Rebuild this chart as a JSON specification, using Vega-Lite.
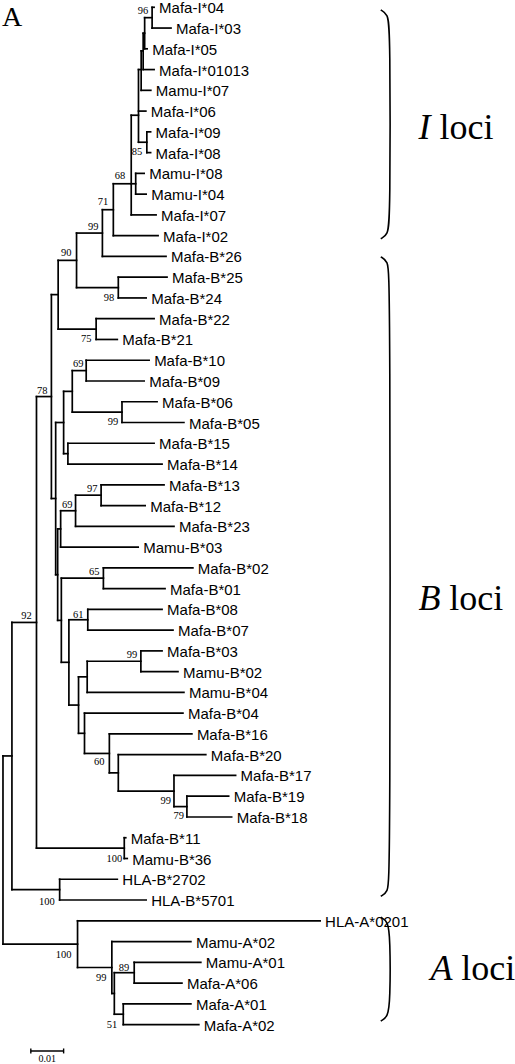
{
"$schema": "https://vega.github.io/schema/vega-lite/v6.json",
"width": 515, "height": 1064, "padding": 0,
"autosize": {"type": "fit", "contains": "padding"},
"background": "white",
"config": {"view": {"stroke": null}},
"datasets": {
"seg": [
{"x":3,"x2":3,"y":36.06,"y2":45.125},{"x":3,"x2":12,"y":36.06,"y2":36.06},{"x":3,"x2":78,"y":45.125,"y2":45.125},
{"x":12,"x2":12,"y":29.63,"y2":42.5},{"x":12,"x2":36.7,"y":29.63,"y2":29.63},{"x":12,"x2":60,"y":42.5,"y2":42.5},
{"x":36.7,"x2":36.7,"y":18.75,"y2":40.5},{"x":36.7,"x2":51.7,"y":18.75,"y2":18.75},{"x":36.7,"x2":125,"y":40.5,"y2":40.5},
{"x":51.7,"x2":51.7,"y":13.84,"y2":23.66},{"x":51.7,"x2":58.5,"y":13.84,"y2":13.84},{"x":51.7,"x2":56,"y":23.66,"y2":23.66},
{"x":58.5,"x2":58.5,"y":12.19,"y2":15.5},{"x":58.5,"x2":77,"y":12.19,"y2":12.19},{"x":58.5,"x2":96.7,"y":15.5,"y2":15.5},
{"x":77,"x2":77,"y":10.875,"y2":13.5},{"x":77,"x2":103,"y":10.875,"y2":10.875},{"x":77,"x2":119,"y":13.5,"y2":13.5},
{"x":103,"x2":103,"y":9.75,"y2":12},{"x":103,"x2":114,"y":9.75,"y2":9.75},{"x":103,"x2":167,"y":12,"y2":12},
{"x":114,"x2":114,"y":8.5,"y2":11},{"x":114,"x2":132,"y":8.5,"y2":8.5},{"x":114,"x2":159,"y":11,"y2":11},
{"x":132,"x2":132,"y":5.2,"y2":10},{"x":132,"x2":139.3,"y":5.2,"y2":5.2},{"x":132,"x2":136.5,"y":8.5,"y2":8.5},{"x":132,"x2":157,"y":10,"y2":10},
{"x":139.3,"x2":139.3,"y":3,"y2":6.5},{"x":139.3,"x2":142,"y":3,"y2":3},{"x":139.3,"x2":146.7,"y":5,"y2":5},{"x":139.3,"x2":147.7,"y":6.5,"y2":6.5},
{"x":142,"x2":142,"y":2.1,"y2":4},{"x":142,"x2":144,"y":2.1,"y2":2.1},{"x":142,"x2":151.7,"y":4,"y2":4},
{"x":144,"x2":144,"y":1.25,"y2":3},{"x":144,"x2":145.5,"y":1.25,"y2":1.25},{"x":144,"x2":155,"y":3,"y2":3},
{"x":145.5,"x2":145.5,"y":0.5,"y2":2},{"x":145.5,"x2":153,"y":0.5,"y2":0.5},{"x":145.5,"x2":148,"y":2,"y2":2},
{"x":153,"x2":153,"y":0,"y2":1},{"x":153,"x2":155,"y":0,"y2":0},{"x":153,"x2":172,"y":1,"y2":1},
{"x":147.7,"x2":147.7,"y":6,"y2":7},{"x":147.7,"x2":151.5,"y":6,"y2":6},{"x":147.7,"x2":151.5,"y":7,"y2":7},
{"x":136.5,"x2":136.5,"y":8,"y2":9},{"x":136.5,"x2":145,"y":8,"y2":8},{"x":136.5,"x2":147,"y":9,"y2":9},
{"x":119,"x2":119,"y":13,"y2":14},{"x":119,"x2":168,"y":13,"y2":13},{"x":119,"x2":147,"y":14,"y2":14},
{"x":96.7,"x2":96.7,"y":15,"y2":16},{"x":96.7,"x2":155,"y":15,"y2":15},{"x":96.7,"x2":118,"y":16,"y2":16},
{"x":56,"x2":56,"y":20,"y2":27.33},{"x":56,"x2":64,"y":20,"y2":20},{"x":56,"x2":58,"y":27.33,"y2":27.33},
{"x":64,"x2":64,"y":18.5,"y2":21.5},{"x":64,"x2":72.7,"y":18.5,"y2":18.5},{"x":64,"x2":68.3,"y":21.5,"y2":21.5},
{"x":72.7,"x2":72.7,"y":17.5,"y2":19.5},{"x":72.7,"x2":86.7,"y":17.5,"y2":17.5},{"x":72.7,"x2":122.7,"y":19.5,"y2":19.5},
{"x":86.7,"x2":86.7,"y":17,"y2":18},{"x":86.7,"x2":150,"y":17,"y2":17},{"x":86.7,"x2":145,"y":18,"y2":18},
{"x":122.7,"x2":122.7,"y":19,"y2":20},{"x":122.7,"x2":158,"y":19,"y2":19},{"x":122.7,"x2":185,"y":20,"y2":20},
{"x":68.3,"x2":68.3,"y":21,"y2":22},{"x":68.3,"x2":155,"y":21,"y2":21},{"x":68.3,"x2":163,"y":22,"y2":22},
{"x":58,"x2":58,"y":25.125,"y2":29.53},{"x":58,"x2":61,"y":25.125,"y2":25.125},{"x":58,"x2":61.7,"y":29.53,"y2":29.53},
{"x":61,"x2":61,"y":24.25,"y2":26},{"x":61,"x2":76,"y":24.25,"y2":24.25},{"x":61,"x2":139,"y":26,"y2":26},
{"x":76,"x2":76,"y":23.5,"y2":25},{"x":76,"x2":101.7,"y":23.5,"y2":23.5},{"x":76,"x2":175,"y":25,"y2":25},
{"x":101.7,"x2":101.7,"y":23,"y2":24},{"x":101.7,"x2":165,"y":23,"y2":23},{"x":101.7,"x2":146,"y":24,"y2":24},
{"x":61.7,"x2":61.7,"y":27.5,"y2":31.55},{"x":61.7,"x2":104,"y":27.5,"y2":27.5},{"x":61.7,"x2":69.3,"y":31.55,"y2":31.55},
{"x":104,"x2":104,"y":27,"y2":28},{"x":104,"x2":194,"y":27,"y2":27},{"x":104,"x2":166,"y":28,"y2":28},
{"x":69.3,"x2":69.3,"y":29.5,"y2":33.61},{"x":69.3,"x2":88.3,"y":29.5,"y2":29.5},{"x":69.3,"x2":79,"y":33.61,"y2":33.61},
{"x":88.3,"x2":88.3,"y":29,"y2":30},{"x":88.3,"x2":163,"y":29,"y2":29},{"x":88.3,"x2":174,"y":30,"y2":30},
{"x":79,"x2":79,"y":32.25,"y2":34.97},{"x":79,"x2":87.7,"y":32.25,"y2":32.25},{"x":79,"x2":85,"y":34.97,"y2":34.97},
{"x":87.7,"x2":87.7,"y":31.5,"y2":33},{"x":87.7,"x2":141.7,"y":31.5,"y2":31.5},{"x":87.7,"x2":185,"y":33,"y2":33},
{"x":141.7,"x2":141.7,"y":31,"y2":32},{"x":141.7,"x2":163,"y":31,"y2":31},{"x":141.7,"x2":179,"y":32,"y2":32},
{"x":85,"x2":85,"y":34,"y2":35.94},{"x":85,"x2":184,"y":34,"y2":34},{"x":85,"x2":110,"y":35.94,"y2":35.94},
{"x":110,"x2":110,"y":35,"y2":36.875},{"x":110,"x2":193,"y":35,"y2":35},{"x":110,"x2":119,"y":36.875,"y2":36.875},
{"x":119,"x2":119,"y":36,"y2":37.75},{"x":119,"x2":207,"y":36,"y2":36},{"x":119,"x2":175,"y":37.75,"y2":37.75},
{"x":175,"x2":175,"y":37,"y2":38.5},{"x":175,"x2":237,"y":37,"y2":37},{"x":175,"x2":188,"y":38.5,"y2":38.5},
{"x":188,"x2":188,"y":38,"y2":39},{"x":188,"x2":230,"y":38,"y2":38},{"x":188,"x2":233,"y":39,"y2":39},
{"x":125,"x2":125,"y":40,"y2":41},{"x":125,"x2":126.5,"y":40,"y2":40},{"x":125,"x2":128,"y":41,"y2":41},
{"x":60,"x2":60,"y":42,"y2":43},{"x":60,"x2":118,"y":42,"y2":42},{"x":60,"x2":147,"y":43,"y2":43},
{"x":78,"x2":78,"y":44,"y2":46.25},{"x":78,"x2":322,"y":44,"y2":44},{"x":78,"x2":112.5,"y":46.25,"y2":46.25},
{"x":112.5,"x2":112.5,"y":45,"y2":47.5},{"x":112.5,"x2":192,"y":45,"y2":45},{"x":112.5,"x2":115,"y":47.5,"y2":47.5},
{"x":115,"x2":115,"y":46.5,"y2":48.5},{"x":115,"x2":135,"y":46.5,"y2":46.5},{"x":115,"x2":124,"y":48.5,"y2":48.5},
{"x":135,"x2":135,"y":46,"y2":47},{"x":135,"x2":202,"y":46,"y2":46},{"x":135,"x2":183,"y":47,"y2":47},
{"x":124,"x2":124,"y":48,"y2":49},{"x":124,"x2":192,"y":48,"y2":48},{"x":124,"x2":200,"y":49,"y2":49}
],
"leaves": [
{"name":"Mafa-I*04","x":155,"y":0},{"name":"Mafa-I*03","x":172,"y":1},{"name":"Mafa-I*05","x":148,"y":2},
{"name":"Mafa-I*01013","x":155,"y":3},{"name":"Mamu-I*07","x":151.7,"y":4},{"name":"Mafa-I*06","x":146.7,"y":5},
{"name":"Mafa-I*09","x":151.5,"y":6},{"name":"Mafa-I*08","x":151.5,"y":7},{"name":"Mamu-I*08","x":145,"y":8},
{"name":"Mamu-I*04","x":147,"y":9},{"name":"Mafa-I*07","x":157,"y":10},{"name":"Mafa-I*02","x":159,"y":11},
{"name":"Mafa-B*26","x":167,"y":12},{"name":"Mafa-B*25","x":168,"y":13},{"name":"Mafa-B*24","x":147,"y":14},
{"name":"Mafa-B*22","x":155,"y":15},{"name":"Mafa-B*21","x":118,"y":16},{"name":"Mafa-B*10","x":150,"y":17},
{"name":"Mafa-B*09","x":145,"y":18},{"name":"Mafa-B*06","x":158,"y":19},{"name":"Mafa-B*05","x":185,"y":20},
{"name":"Mafa-B*15","x":155,"y":21},{"name":"Mafa-B*14","x":163,"y":22},{"name":"Mafa-B*13","x":165,"y":23},
{"name":"Mafa-B*12","x":146,"y":24},{"name":"Mafa-B*23","x":175,"y":25},{"name":"Mamu-B*03","x":139,"y":26},
{"name":"Mafa-B*02","x":194,"y":27},{"name":"Mafa-B*01","x":166,"y":28},{"name":"Mafa-B*08","x":163,"y":29},
{"name":"Mafa-B*07","x":174,"y":30},{"name":"Mafa-B*03","x":163,"y":31},{"name":"Mamu-B*02","x":179,"y":32},
{"name":"Mamu-B*04","x":185,"y":33},{"name":"Mafa-B*04","x":184,"y":34},{"name":"Mafa-B*16","x":193,"y":35},
{"name":"Mafa-B*20","x":207,"y":36},{"name":"Mafa-B*17","x":237,"y":37},{"name":"Mafa-B*19","x":230,"y":38},
{"name":"Mafa-B*18","x":233,"y":39},{"name":"Mafa-B*11","x":126.5,"y":40},{"name":"Mamu-B*36","x":128,"y":41},
{"name":"HLA-B*2702","x":118,"y":42},{"name":"HLA-B*5701","x":147,"y":43},{"name":"HLA-A*0201","x":322,"y":44},
{"name":"Mamu-A*02","x":192,"y":45},{"name":"Mamu-A*01","x":202,"y":46},{"name":"Mafa-A*06","x":183,"y":47},
{"name":"Mafa-A*01","x":192,"y":48},{"name":"Mafa-A*02","x":200,"y":49}
],
"boot": [
{"b":"96","x":149,"y":0.18},{"b":"85","x":143,"y":6.96},{"b":"68","x":126,"y":8.12},{"b":"71","x":109,"y":9.37},
{"b":"99","x":99,"y":10.57},{"b":"90","x":72,"y":11.82},{"b":"98","x":115,"y":13.99},{"b":"75","x":92,"y":15.96},
{"b":"69","x":84,"y":17.17},{"b":"99","x":119,"y":19.96},{"b":"78","x":47.7,"y":18.46},{"b":"97","x":98,"y":23.18},
{"b":"69","x":73,"y":23.95},{"b":"65","x":100,"y":27.22},{"b":"61","x":84,"y":29.25},{"b":"99","x":138,"y":31.22},
{"b":"92","x":32,"y":29.34},{"b":"60","x":105,"y":36.37},{"b":"99","x":172,"y":38.24},{"b":"79","x":185,"y":38.97},
{"b":"100","x":123,"y":41.03},{"b":"100","x":55,"y":43.1},{"b":"100","x":72,"y":45.65},{"b":"99","x":107,"y":46.76},
{"b":"89","x":130,"y":46.28},{"b":"51","x":118,"y":49.02}
],
"brace": [
{"g":"I","o":1,"x":383,"y":0.13},{"g":"I","o":2,"x":390,"y":0.32},{"g":"I","o":3,"x":392.5,"y":1.09},{"g":"I","o":4,"x":392.5,"y":10.19},{"g":"I","o":5,"x":390,"y":10.96},{"g":"I","o":6,"x":383,"y":11.15},
{"g":"B","o":1,"x":383,"y":12.02},{"g":"B","o":2,"x":390,"y":12.21},{"g":"B","o":3,"x":392.5,"y":12.98},{"g":"B","o":4,"x":392.5,"y":41.86},{"g":"B","o":5,"x":390,"y":42.63},{"g":"B","o":6,"x":383,"y":42.82},
{"g":"A","o":1,"x":383,"y":43.83},{"g":"A","o":2,"x":390,"y":44.02},{"g":"A","o":3,"x":392.5,"y":44.79},{"g":"A","o":4,"x":392.5,"y":47.87},{"g":"A","o":5,"x":390,"y":48.64},{"g":"A","o":6,"x":383,"y":48.83}
],
"locusLetter": [{"t":"I","x":421,"y":5.81},{"t":"B","x":421,"y":28.5},{"t":"A","x":433,"y":46.33}],
"locusWord": [{"t":"loci","x":442,"y":5.81},{"t":"loci","x":452,"y":28.5},{"t":"loci","x":464,"y":46.33}],
"panel": [{"t":"A","x":2,"y":0.9}],
"bar": [{"x":31,"x2":64,"y":50.27,"y2":50.27},{"x":31,"x2":31,"y":50.15,"y2":50.39},{"x":64,"x2":64,"y":50.15,"y2":50.39}],
"barText": [{"t":"0.01","x":47.5,"y":50.64}]
},
"encoding": {
"x": {"field":"x","type":"quantitative","scale":{"domain":[0,515],"nice":false,"zero":false},"axis":null},
"y": {"field":"y","type":"quantitative","scale":{"domain":[-0.351,50.85],"reverse":true,"nice":false,"zero":false},"axis":null}
},
"layer": [
{"data":{"name":"seg"},"mark":{"type":"rule","color":"black","strokeWidth":1.7,"strokeCap":"square"},
 "encoding":{"x2":{"field":"x2"},"y2":{"field":"y2"}}},
{"data":{"name":"bar"},"mark":{"type":"rule","color":"black","strokeWidth":1.4},
 "encoding":{"x2":{"field":"x2"},"y2":{"field":"y2"}}},
{"data":{"name":"leaves"},"mark":{"type":"text","align":"left","baseline":"middle","dx":5,"dy":1,"font":"Liberation Sans","fontSize":15,"color":"black"},
 "encoding":{"text":{"field":"name"}}},
{"data":{"name":"boot"},"mark":{"type":"text","align":"right","baseline":"middle","font":"Liberation Serif","fontSize":10.5,"color":"black"},
 "encoding":{"text":{"field":"b"}}},
{"data":{"name":"brace"},"mark":{"type":"line","interpolate":"basis","color":"black","strokeWidth":1.6},
 "encoding":{"detail":{"field":"g"},"order":{"field":"o","type":"quantitative"}}},
{"data":{"name":"locusLetter"},"mark":{"type":"text","align":"left","baseline":"middle","font":"Liberation Serif","fontStyle":"italic","fontSize":36,"color":"black"},
 "encoding":{"text":{"field":"t"}}},
{"data":{"name":"locusWord"},"mark":{"type":"text","align":"left","baseline":"middle","font":"Liberation Serif","fontSize":36,"color":"black"},
 "encoding":{"text":{"field":"t"}}},
{"data":{"name":"panel"},"mark":{"type":"text","align":"left","baseline":"alphabetic","font":"Liberation Serif","fontSize":28,"color":"black"},
 "encoding":{"text":{"field":"t"}}},
{"data":{"name":"barText"},"mark":{"type":"text","align":"center","baseline":"middle","font":"Liberation Serif","fontSize":10,"color":"black"},
 "encoding":{"text":{"field":"t"}}}
]
}
